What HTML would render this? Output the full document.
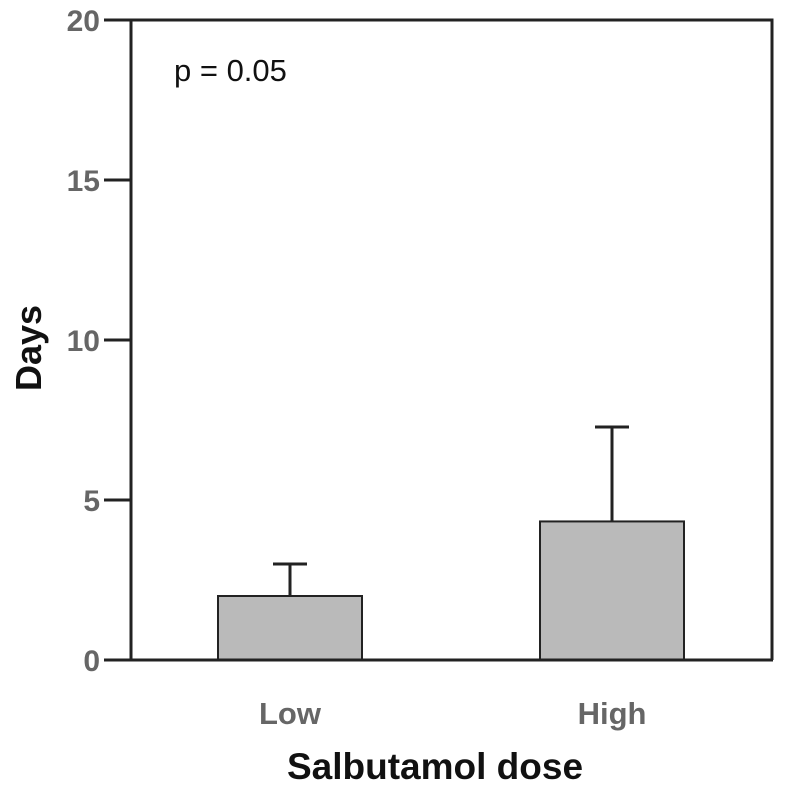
<!DOCTYPE html>
<html><head><meta charset="utf-8"><style>
html,body{margin:0;padding:0;background:#fff;}
svg{display:block;font-family:"Liberation Sans",Arial,sans-serif;}
</style></head><body>
<svg id="chart" width="785" height="791" viewBox="0 0 785 791"></svg>
<script>
const categories = ["Low", "High"];
const values = [2.0, 4.33];
const errors = [1.0, 2.95];
const yTicks = [0, 5, 10, 15, 20];
const yTickLabels = ["0", "5", "10", "15", "20"];

const svg = document.getElementById('chart');
const NS = 'http://www.w3.org/2000/svg';
const L = 131, R = 772, T = 20, B = 660;
const yMin = 0, yMax = 20;
function y(v){ return B - (v - yMin) / (yMax - yMin) * (B - T); }
function xc(i){ return i === 0 ? 290 : 612; }
const barW = 144;
function mk(tag, attrs, parent){
  const e = document.createElementNS(NS, tag);
  for (const k in attrs) e.setAttribute(k, attrs[k]);
  (parent || svg).appendChild(e);
  return e;
}
categories.forEach((c, i) => {
  const cx = xc(i);
  const top = y(values[i] + errors[i]);
  const el = mk('line', {x1: cx, x2: cx, y1: y(values[i]), y2: top, stroke: '#222', 'stroke-width': 3});
  
  
  const cap = mk('line', {x1: cx - 17, x2: cx + 17, y1: top, y2: top, stroke: '#222', 'stroke-width': 3});
  
  
  const b = mk('rect', {x: cx - barW / 2, y: y(values[i]), width: barW, height: y(0) - y(values[i]), fill: '#bababa', stroke: '#222', 'stroke-width': 2});
  
  
  const t = mk('text', {x: cx, y: 724, 'text-anchor': 'middle', 'font-size': 31, 'font-weight': 'bold', fill: '#666'});
  t.textContent = c;
  
  
});
const frame = mk('path', {d: `M${L},${B} L${L},${T} L${R},${T} L${R},${B}`, fill: 'none', stroke: '#222', 'stroke-width': 3});


const xa = mk('line', {x1: L - 27, x2: R + 1, y1: B, y2: B, stroke: '#222', 'stroke-width': 3});


yTicks.forEach((v, i) => {
  const tk = mk('line', {x1: L - 27, x2: L, y1: y(v), y2: y(v), stroke: '#222', 'stroke-width': 3});
  
  
  const t = mk('text', {x: 100, y: y(v) + 11, 'text-anchor': 'end', 'font-size': 30, 'font-weight': 'bold', fill: '#666'});
  t.textContent = yTickLabels[i];
  
  
});
const yt = mk('text', {x: 0, y: 0, transform: 'translate(41,348) rotate(-90)', 'text-anchor': 'middle', 'font-size': 36, 'font-weight': 'bold', fill: '#111'});
yt.textContent = 'Days';


const xt = mk('text', {x: 435, y: 779, 'text-anchor': 'middle', 'font-size': 37, 'font-weight': 'bold', fill: '#111'});
xt.textContent = 'Salbutamol dose';


const pv = mk('text', {x: 174, y: 81, 'font-size': 31, fill: '#111'});
pv.textContent = 'p = 0.05';


</script>
</body></html>
